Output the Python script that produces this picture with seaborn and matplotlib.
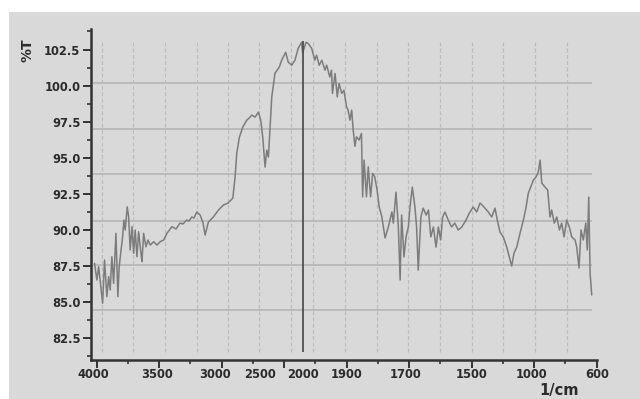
import numpy as np
import pandas as pd
import matplotlib
matplotlib.use("Agg")
import matplotlib.pyplot as plt
from matplotlib.patches import Rectangle
import seaborn as sns

# ---------------- data ----------------
wavenumber = [
    3987, 3969, 3955, 3935, 3924, 3909, 3891, 3877, 3865, 3852, 3838, 3820, 3805, 3795, 3777,
    3768, 3758, 3748, 3732, 3721, 3709, 3695, 3682, 3670, 3656, 3643, 3625, 3617, 3604, 3586,
    3570, 3552, 3526, 3500, 3472, 3442, 3414, 3371,
    3336, 3302, 3276, 3244, 3224, 3201, 3181, 3158, 3129, 3103, 3086, 3058, 3015,
    2963, 2908, 2856, 2803, 2778, 2759, 2730, 2692, 2648, 2622, 2592, 2556, 2519, 2492, 2469,
    2442, 2422, 2403, 2384, 2364, 2326, 2276, 2248, 2201, 2171, 2131, 2093, 2055, 2015, 2003,
    1993, 1988, 1980, 1973, 1969, 1963, 1957, 1950, 1946, 1939, 1935, 1933, 1927, 1922, 1918,
    1912, 1907, 1901, 1896, 1890, 1884, 1879, 1873, 1868, 1859, 1851, 1847, 1842, 1834, 1828,
    1820, 1813, 1806, 1798, 1791, 1782,
    1771, 1760, 1748, 1743, 1734, 1726, 1720, 1715, 1707, 1700, 1693, 1688, 1681, 1673, 1668,
    1663, 1655, 1648, 1639, 1632, 1625, 1617, 1609, 1602, 1595, 1589, 1582, 1572, 1562, 1552,
    1542, 1531, 1518, 1508, 1489, 1460, 1432, 1398, 1362, 1333, 1305, 1286, 1263, 1235, 1206,
    1184, 1164, 1144, 1121, 1093, 1065, 1042, 1023, 1003, 986, 970, 956, 945, 935, 915,
    899, 885, 875, 859, 844, 828, 814, 800, 784, 768, 753, 733, 723, 709, 697,
    683, 668, 659, 650, 642, 632,
]
transmittance = [
    87.70, 86.54, 87.46, 85.85, 84.93, 87.92, 85.39, 86.77, 85.85, 88.15, 86.31, 89.77, 85.39, 87.46, 88.84,
    89.54, 90.69, 90.00, 91.61, 90.92, 88.62, 90.23, 88.39, 90.00, 88.15, 89.88, 88.39, 87.81, 89.77, 88.84,
    89.31, 88.96, 89.19, 88.96, 89.19, 89.31, 89.77, 90.23,
    90.07, 90.48, 90.42, 90.69, 90.62, 90.90, 90.83, 91.25, 91.04, 90.48, 89.65, 90.55, 90.90,
    91.38, 91.73, 91.87, 92.21, 93.67, 95.33, 96.43, 97.13, 97.61, 97.75, 97.96, 97.82, 98.16, 97.61, 96.43,
    94.36, 95.53, 95.05, 97.13, 99.20, 100.86, 101.28, 101.76, 102.31, 101.62, 101.41, 101.76, 102.59, 103.00, 102.24,
    103.00, 102.92, 102.57, 101.76, 102.11, 101.41, 101.76, 101.07, 101.41, 100.60, 101.07, 99.46, 100.84, 99.22, 100.15,
    99.46, 99.68, 98.53, 98.30, 97.61, 98.30, 96.92, 95.80, 96.45, 96.23, 96.69, 92.30, 94.84, 92.30, 94.38,
    92.30, 93.92, 93.69, 92.77, 91.61, 90.92,
    89.45, 90.21, 91.25, 90.48, 92.63, 90.21, 86.54, 91.04, 88.13, 89.52, 90.21, 91.59, 92.97, 91.59, 90.21,
    87.23, 90.90, 91.52, 91.04, 91.38, 89.52, 90.21, 88.82, 90.21, 89.31, 90.90, 91.25, 90.69, 90.21, 90.48,
    90.00, 90.21, 90.69, 91.18, 91.59, 91.25, 91.87, 91.59, 91.25, 90.90, 91.52, 90.69, 89.86, 89.52, 88.82,
    88.13, 87.51, 88.41, 88.82, 89.79, 90.69, 91.59, 92.56, 92.97, 93.46, 93.67, 94.01, 94.84, 93.25, 92.97,
    92.77, 90.90, 91.38, 90.48, 90.90, 90.00, 90.48, 89.52, 90.69, 90.21, 89.52, 89.31, 88.82, 87.37, 90.00,
    89.31, 90.48, 88.62, 92.28, 87.03, 85.50,
]
x_tick_labels = [4000, 3500, 3000, 2500, 2000, 1900, 1700, 1500, 1000, 600]
y_ticks = [82.5, 85.0, 87.5, 90.0, 92.5, 95.0, 97.5, 100.0, 102.5]
marker_wavenumber = 2000
x_unit = "1/cm"
y_label = "%T"

# ---------------- non-linear x axis of the instrument ----------------
AXIS_POS = [-0.12, 1.93, 3.79, 5.23, 6.60, 8.01, 9.90, 12.01, 13.90, 16.01]


def to_pos(w):
    return np.interp(-np.asarray(w, dtype=float), -np.asarray(x_tick_labels, dtype=float), AXIS_POS)


df = pd.DataFrame({"pos": to_pos(wavenumber), "T": transmittance})

# ---------------- figure ----------------
sns.set_style("ticks")
plt.rcParams["font.family"] = ["DejaVu Sans"]

W, H = 640, 399
fig = plt.figure(figsize=(W / 100, H / 100), dpi=100)
fig.patch.set_facecolor("white")
fig.patches.append(Rectangle((9 / W, 0), 1 - 9 / W, 1 - 12 / H, transform=fig.transFigure,
                             facecolor="#d9d9d9", edgecolor="none", zorder=-10))

ax = fig.add_axes([90.7 / W, 1 - 360 / H, (597 - 90.7) / W, (360 - 29.3) / H])
ax.set_facecolor("none")

ax.set_xlim(-0.19, 16.01)
ax.set_ylim(81.0, 103.9)

# background grid of the instrument printout
h_grid = [100.15, 97.03, 93.87, 90.64, 87.58, 84.47]
ax.hlines(h_grid, -0.12, 15.85, colors="#b4b4b4", linewidth=1.2, zorder=1)
v_grid = [0.16, 1.17, 2.19, 3.20, 4.21, 5.21, 6.23, 6.93, 7.95, 8.96, 9.97, 10.99, 12.0, 13.01, 14.03, 15.04]
ax.vlines(v_grid, 81.58, 103.09, colors="#bcbcbc", linewidth=0.9, linestyles=(0, (3, 2)), zorder=1)

sns.lineplot(data=df, x="pos", y="T", ax=ax, color="#7c7c7c", linewidth=1.1,
             estimator=None, sort=False, zorder=3)

ax.vlines(to_pos(marker_wavenumber), 81.58, 103.09, colors="#505050", linewidth=1.3, zorder=4)

# spines
for s in ("top", "right"):
    ax.spines[s].set_visible(False)
for s in ("left", "bottom"):
    ax.spines[s].set_linewidth(1.8)
    ax.spines[s].set_color("#333333")

# ticks
ax.set_xticks(np.arange(0, 17, 2))
ax.set_xticks(np.arange(1, 16, 2), minor=True)
ax.set_xticklabels([])
ax.set_yticks(y_ticks)
ax.set_yticklabels([f"{v:.1f}" for v in y_ticks])
ax.set_yticks(np.arange(81.25, 104.0, 2.5), minor=True)
ax.tick_params(axis="both", which="major", direction="out", length=5.5, width=1.4, color="#333333")
ax.tick_params(axis="both", which="minor", direction="out", length=3, width=1.2, color="#333333")
ax.tick_params(axis="y", labelsize=8.3, labelcolor="#2b2b2b", pad=2)
for lab in ax.get_yticklabels():
    lab.set_fontweight("bold")

for v in x_tick_labels:
    ax.text(float(to_pos(v)), -0.045, str(v), transform=ax.get_xaxis_transform(),
            ha="center", va="center", fontsize=8.3, fontweight="bold", color="#2b2b2b")

ax.set_xlabel("")
ax.set_ylabel("")
fig.text(27 / W, 1 - 50 / H, y_label, rotation=90, ha="center", va="center",
         fontsize=10, fontweight="bold", color="#2b2b2b")
fig.text(559 / W, 1 - 391 / H, x_unit, ha="center", va="center",
         fontsize=10.5, fontweight="bold", color="#2b2b2b")

fig.savefig("out.png", dpi=100, facecolor=fig.get_facecolor())
